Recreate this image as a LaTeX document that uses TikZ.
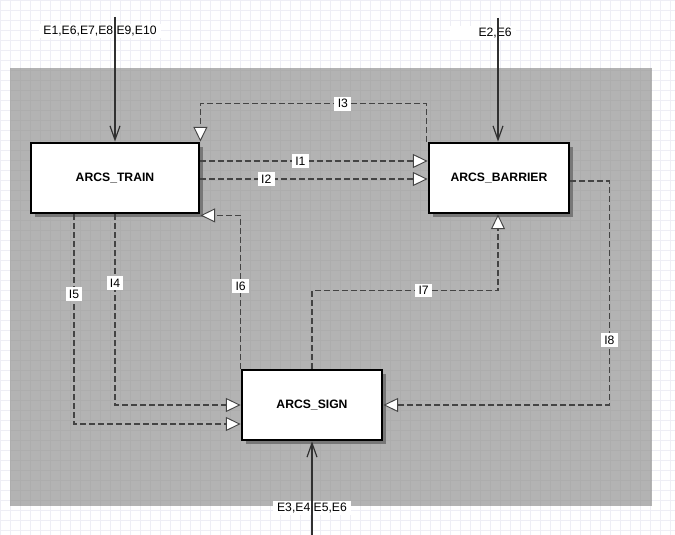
\documentclass[tikz,border=0pt]{standalone}
\usepackage{fontspec}
\setmainfont{Liberation Sans}
\usetikzlibrary{arrows.meta,calc,shadows}
\definecolor{SheetGrid}{HTML}{EEEEF5}
\definecolor{PanelGray}{HTML}{B3B3B3}
\definecolor{PanelGrid}{HTML}{ADADAD}
\definecolor{ShadowGray}{HTML}{777777}
\definecolor{LinkGray}{HTML}{444444}

\begin{document}
\begin{tikzpicture}[x=0.03cm,y=-0.03cm,font=\fontsize{10.4}{12}\selectfont,
  block/.style={draw=black,line width=2.4pt,fill=white,font=\fontsize{10.4}{12}\selectfont\bfseries,
    minimum height=2.1cm,
    drop shadow={shadow xshift=0.12cm,shadow yshift=-0.12cm,fill=ShadowGray,opacity=1}},
  dep/.style={draw=LinkGray,line width=1.5pt,dash pattern=on 0.18cm off 0.09cm,
    -{Triangle[length=0.44cm,width=0.42cm,fill=white,line width=0.8pt]}},
  ext/.style={draw=LinkGray!70!black,line width=1pt,-{Straight Barb[length=0.42cm,width=0.3cm]}},
  lab/.style={fill=white,inner xsep=0.1cm,inner ysep=0.08cm},
  elab/.style={fill=white,inner xsep=0.12cm,inner ysep=0.06cm}]
  \useasboundingbox (0,0) rectangle (675,535);
  % sheet and panel
  \fill[white] (0,0) rectangle (675,535);
  \foreach \gx in {0,10,...,670} \draw[SheetGrid,line width=0.4pt] (\gx,0) -- (\gx,535);
  \foreach \gy in {0,10,...,530} \draw[SheetGrid,line width=0.4pt] (0,\gy) -- (675,\gy);
  \fill[PanelGray] (10,68) rectangle (652,506);
  \begin{scope}
    \clip (10,68) rectangle (652,506);
    \foreach \gx in {10,20,...,650} \draw[PanelGrid,line width=0.4pt] (\gx,68) -- (\gx,506);
    \foreach \gy in {70,80,...,500} \draw[PanelGrid,line width=0.4pt] (10,\gy) -- (652,\gy);
  \end{scope}

  % blocks
  \node[block,minimum width=5.04cm] (train) at (115,178) {ARCS\_TRAIN};
  \node[block,minimum width=4.2cm] (barrier) at (499,178) {ARCS\_BARRIER};
  \node[block,minimum width=4.2cm] (sign) at (312,405) {ARCS\_SIGN};

  % external events
  \node[elab] (e1lab) at (100,31) {E1,E6,E7,E8,E9,E10};
  \node[elab,anchor=east] (e2lab) at (516,33) {\hspace{0.75cm}E2,E6};
  \node[elab] (e3lab) at (312,508) {E3,E4,E5,E6};
  \coordinate (e1top) at (115,17);
  \coordinate (e2top) at (498,18);
  \coordinate (e3bot) at (312,535);
  \draw[ext] (e1top) -- (train.north);
  \draw[ext] (e2top) -- ($(barrier.north)+(-1,0)$);
  \draw[ext] (e3bot) -- (sign.south);

  % internal links
  \draw[dep] ($(train.east)+(0,-17)$) -- node[lab,pos=0.44] {I1} ($(barrier.west)+(0,-17)$);
  \draw[dep] ($(train.east)+(0,1)$) -- node[lab,pos=0.29] {I2} ($(barrier.west)+(0,1)$);
  \draw[dep] ($(barrier.north west)+(-1,0)$) |- node[lab,pos=0.685] {I3}
    ($(train.north east)+(0,-38)$) -- (train.north east);
  \draw[dep] (train.south) |- node[lab,pos=0.18] {I4} (sign.west);
  \draw[dep] ($(train.south)+(-41,0)$) |- node[lab,pos=0.19] {I5} ($(sign.west)+(0,19)$);
  \draw[dep] (sign.north west) |- node[lab,pos=0.27] {I6} ($(train.south east)+(0,1)$);
  \draw[dep] (sign.north) -- ++(0,-78) -| node[lab,pos=0.3] {I7} ($(barrier.south)+(-1,0)$);
  \draw[dep] ($(barrier.east)+(0,3)$) -- ++(39,0) |- node[lab,pos=0.355] {I8} (sign.east);
\end{tikzpicture}
\end{document}
